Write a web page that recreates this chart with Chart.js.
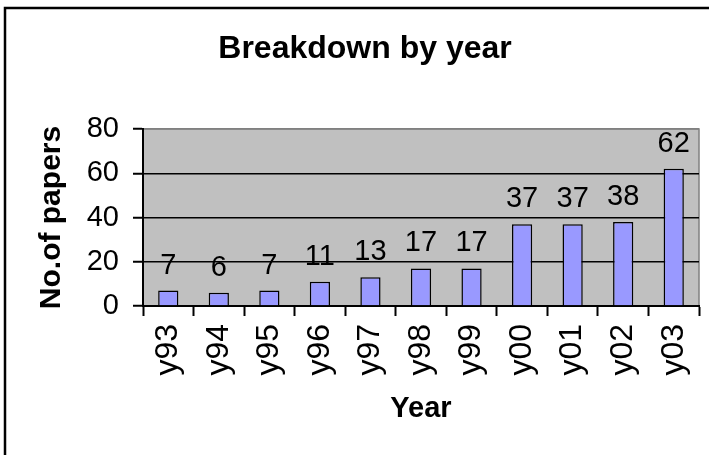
<!DOCTYPE html>
<html>
<head>
<meta charset="utf-8">
<title>Breakdown by year</title>
<script src="https://cdn.jsdelivr.net/npm/chart.js@4/dist/chart.umd.min.js"></script>
<style>
  html, body { margin: 0; padding: 0; background: #fff; }
  #chart { display: block; }
</style>
</head>
<body>
<canvas id="chart" width="709" height="455"></canvas>
<script>
// chart data
let years  = ["y93", "y94", "y95", "y96", "y97", "y98", "y99", "y00", "y01", "y02", "y03"];
let papers = [7, 6, 7, 11, 13, 17, 17, 37, 37, 38, 62];
let yTicks = [0, 20, 40, 60, 80];

let chartTitle = "Breakdown by year";
let xTitle = "Year";
let yTitle = "No.of papers";

let fontName = "'Liberation Sans', Arial, sans-serif";

// white page, black frame and grey plot area (Excel look)
let frame = {
  id: "frame",
  beforeDraw(chart) {
    let ctx = chart.ctx;
    let a = chart.chartArea;
    ctx.save();
    ctx.fillStyle = "#fff";
    ctx.fillRect(0, 0, chart.width, chart.height);
    ctx.strokeStyle = "#000";
    ctx.lineWidth = 2.5;
    ctx.strokeRect(5, 8, chart.width + 20, chart.height + 20);
    ctx.fillStyle = "#c0c0c0";
    ctx.fillRect(a.left, a.top, a.right - a.left, a.bottom - a.top);
    ctx.strokeStyle = "#808080";
    ctx.lineWidth = 1.5;
    ctx.strokeRect(a.left, a.top, a.right - a.left, a.bottom - a.top);
    ctx.restore();
  }
};

// numbers above the bars
let valueLabels = {
  id: "valueLabels",
  afterDatasetsDraw(chart) {
    let ctx = chart.ctx;
    let meta = chart.getDatasetMeta(0);
    ctx.save();
    ctx.fillStyle = "#000";
    ctx.font = "29px " + fontName;
    ctx.textAlign = "center";
    ctx.textBaseline = "alphabetic";
    meta.data.forEach((bar, i) => {
      ctx.fillText(String(papers[i]), bar.x, bar.y - 17);
    });
    ctx.restore();
  }
};

new Chart(document.getElementById("chart"), {
  type: "bar",
  data: {
    labels: years,
    datasets: [{
      data: papers,
      backgroundColor: "#9999ff",
      borderColor: "#000",
      borderWidth: 1.5,
      barPercentage: 0.4,
      categoryPercentage: 1
    }]
  },
  options: {
    responsive: false,
    animation: false,
    devicePixelRatio: 1,
    layout: { padding: { top: 0, left: 31, right: 10, bottom: 0 } },
    plugins: {
      legend: { display: false },
      tooltip: { enabled: false },
      title: {
        display: true,
        text: chartTitle,
        color: "#000",
        font: { family: fontName, size: 32, weight: "bold" },
        padding: { top: 30, bottom: 60.6 }
      }
    },
    scales: {
      x: {
        grid: {
          offset: true,
          drawOnChartArea: false,
          drawTicks: true,
          tickLength: 10,
          tickColor: "#000",
          tickWidth: 2
        },
        border: { display: true, color: "#000", width: 2 },
        ticks: {
          color: "#000",
          font: { family: fontName, size: 32 },
          minRotation: 90,
          maxRotation: 90,
          padding: 8,
          autoSkip: false
        },
        title: {
          display: true,
          text: xTitle,
          color: "#000",
          font: { family: fontName, size: 29, weight: "bold" },
          padding: { top: 0, bottom: 29 }
        },
        afterFit(scale) {
          scale.height = 149;
          scale.paddingLeft = 0;
          scale.paddingRight = 0;
        }
      },
      y: {
        min: 0,
        max: 80,
        afterBuildTicks(scale) { scale.ticks = yTicks.map(v => ({ value: v })); },
        grid: {
          color: (c) => (c.tick && c.tick.value === 80) ? "#808080" : "#000",
          lineWidth: 1.5,
          drawTicks: true,
          tickLength: 10,
          tickColor: "#000",
          tickWidth: 2
        },
        border: { display: true, color: "#000", width: 2 },
        ticks: {
          color: "#000",
          font: { family: fontName, size: 29 },
          padding: 14
        },
        title: {
          display: true,
          text: yTitle,
          color: "#000",
          font: { family: fontName, size: 30, weight: "bold" },
          padding: { top: 3, bottom: 0 }
        },
        afterFit(scale) { scale.width = 112; }
      }
    }
  },
  plugins: [frame, valueLabels]
});
</script>
</body>
</html>
